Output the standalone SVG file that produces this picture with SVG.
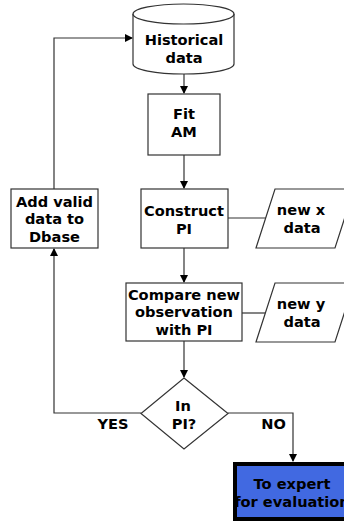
<svg xmlns="http://www.w3.org/2000/svg" width="344" height="522" viewBox="0 0 344 522">
<defs>
<marker id="arr" markerWidth="8" markerHeight="8" refX="7" refY="4" orient="auto" markerUnits="userSpaceOnUse">
<path d="M0,0 L8,4 L0,8 Z" fill="#000"/>
</marker>
<style>
.box{fill:#fff;stroke:#333;stroke-width:1.2}
.ln{fill:none;stroke:#333;stroke-width:1.2}
.t{font-family:"DejaVu Sans",Verdana,sans-serif;font-size:14.6px;font-weight:bold;fill:#000;text-anchor:middle}
</style>
</defs>
<rect width="344" height="522" fill="#fff"/>
<g id="connectors">
<path class="ln" d="M184,74 V93" marker-end="url(#arr)"/>
<path class="ln" d="M184,155 V188" marker-end="url(#arr)"/>
<path class="ln" d="M184,248 V282" marker-end="url(#arr)"/>
<path class="ln" d="M184,341 V377" marker-end="url(#arr)"/>
<path class="ln" d="M228,218 H266"/>
<path class="ln" d="M242,313 H266"/>
<path class="ln" d="M141,413 H54 V249" marker-end="url(#arr)"/>
<path class="ln" d="M54,189 V38 H132" marker-end="url(#arr)"/>
<path class="ln" d="M228,413 H293 V461" marker-end="url(#arr)"/>
</g>
<g id="historical">
<path class="box" d="M133,14 V64 A50.5,10 0 0 0 234,64 V14"/>
<ellipse class="box" cx="183.5" cy="14" rx="50.5" ry="10"/>
<text class="t" x="184" y="45">Historical</text>
<text class="t" x="184" y="63">data</text>
</g>
<g id="fitam">
<rect class="box" x="148" y="94" width="72" height="61"/>
<text class="t" x="184" y="119">Fit</text>
<text class="t" x="184" y="137">AM</text>
</g>
<g id="construct">
<rect class="box" x="141" y="189" width="87" height="59"/>
<text class="t" x="184" y="216">Construct</text>
<text class="t" x="184" y="234">PI</text>
</g>
<g id="newx">
<polygon class="box" points="275,189 354,189 335,248 256,248"/>
<text class="t" x="301" y="215">new x</text>
<text class="t" x="302" y="233">data</text>
</g>
<g id="compare">
<rect class="box" x="126" y="283" width="116" height="58"/>
<text class="t" x="184" y="300">Compare new</text>
<text class="t" x="184" y="317">observation</text>
<text class="t" x="184" y="335">with PI</text>
</g>
<g id="newy">
<polygon class="box" points="275,283 354,283 335,342 256,342"/>
<text class="t" x="301" y="309">new y</text>
<text class="t" x="302" y="327">data</text>
</g>
<g id="addvalid">
<rect class="box" x="11" y="189" width="87" height="59"/>
<text class="t" x="54.5" y="207">Add valid</text>
<text class="t" x="54.5" y="224">data to</text>
<text class="t" x="54.5" y="242">Dbase</text>
</g>
<g id="inpi">
<polygon class="box" points="184,378 228,413.5 184,449 141,413.5"/>
<text class="t" x="183" y="411">In</text>
<text class="t" x="184" y="429">PI?</text>
</g>
<text class="t" x="113" y="429">YES</text>
<text class="t" x="273.5" y="429">NO</text>
<g id="expert">
<rect x="235" y="464" width="118" height="55" fill="#4169E1" stroke="#000" stroke-width="4"/>
<text class="t" x="292" y="489">To expert</text>
<text class="t" x="292" y="507">for evaluation</text>
</g>
</svg>
